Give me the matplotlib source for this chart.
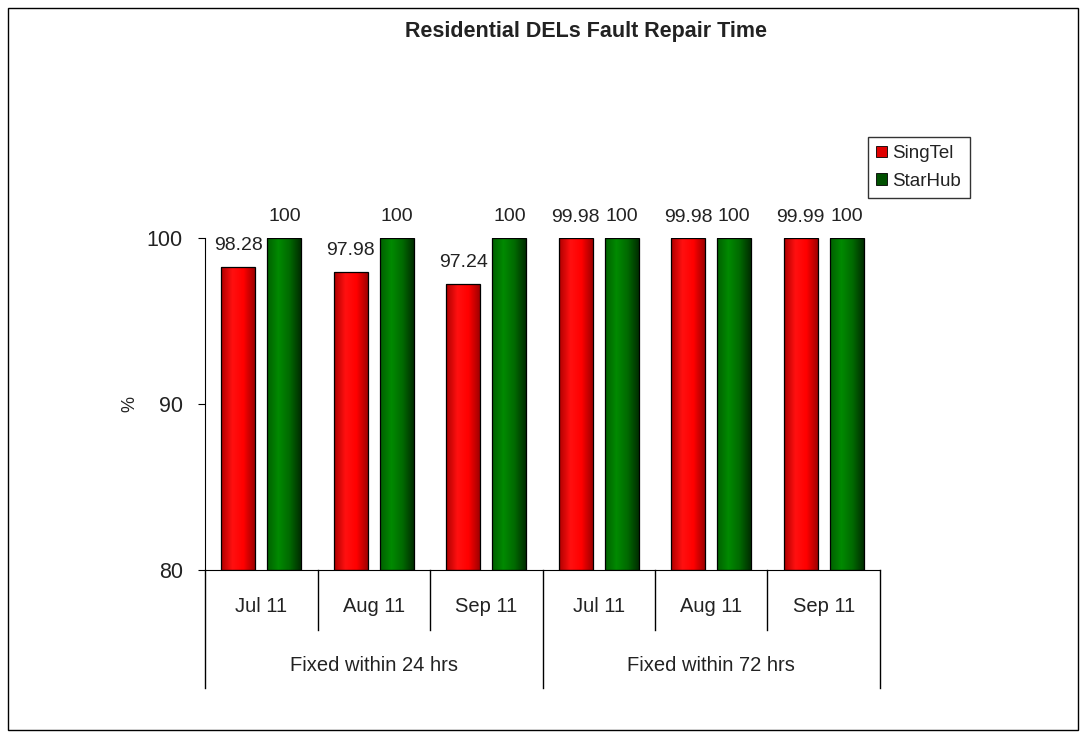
import numpy as np
import matplotlib.pyplot as plt
from matplotlib.colors import LinearSegmentedColormap
from matplotlib.patches import Rectangle
from matplotlib.transforms import blended_transform_factory

plt.rcParams['font.family'] = ['Liberation Sans', 'DejaVu Sans']

# dados
meses = ["Jul 11", "Aug 11", "Sep 11", "Jul 11", "Aug 11", "Sep 11"]
grupos = ["Fixed within 24 hrs", "Fixed within 72 hrs"]
singtel = [98.28, 97.98, 97.24, 99.98, 99.98, 99.99]
starhub = [100, 100, 100, 100, 100, 100]

cor_texto = "#222222"

fig = plt.figure(figsize=(10.86, 7.37), dpi=100)
ax = fig.add_axes([0.1888, 0.2266, 0.6215, 0.4505])

# moldura externa
fig.patches.append(Rectangle((8 / 1086, 1 - 730 / 737), 1070 / 1086, 722 / 737,
                             transform=fig.transFigure, fill=False,
                             edgecolor="black", linewidth=1.0))

x = np.arange(len(meses))
w = 0.30
off = 0.205

cmap_red = LinearSegmentedColormap.from_list("r", ["#b00000", "#ff1010", "#ff0000", "#a00000"])
cmap_green = LinearSegmentedColormap.from_list("g", ["#006000", "#008a00", "#006a00", "#002e00"])
grad = np.linspace(0, 1, 64).reshape(1, -1)


def barra_gradiente(ax, xc, valor, cmap):
    bars = ax.bar(xc, valor - 80, width=w, bottom=80, color="none",
                  edgecolor="black", linewidth=0.9, zorder=3)
    r = bars[0]
    im = ax.imshow(grad, cmap=cmap, aspect="auto", zorder=2,
                   extent=(xc - w / 2, xc + w / 2, 80, valor))
    im.set_clip_path(r)
    return r


for i in range(len(meses)):
    barra_gradiente(ax, x[i] - off, singtel[i], cmap_red)
    barra_gradiente(ax, x[i] + off, starhub[i], cmap_green)
    ax.annotate(f"{singtel[i]:g}", (x[i] - off, singtel[i]), xytext=(0, 9),
                textcoords="offset points", ha="center", va="bottom",
                fontsize=14, color=cor_texto, annotation_clip=False)
    ax.annotate(f"{starhub[i]:g}", (x[i] + off, starhub[i]), xytext=(0, 9),
                textcoords="offset points", ha="center", va="bottom",
                fontsize=14, color=cor_texto, annotation_clip=False)

ax.set_xlim(-0.5, len(meses) - 0.5)
ax.set_ylim(80, 100)
ax.set_yticks([80, 90, 100])
ax.tick_params(axis="y", labelsize=15.5, length=5, direction="out", pad=11,
               labelcolor=cor_texto)
ax.set_xticks([])
ax.spines["top"].set_visible(False)
ax.spines["right"].set_visible(False)
ax.set_ylabel("%", fontsize=13, labelpad=6, color=cor_texto)

# eixo x em dois níveis
trans = blended_transform_factory(ax.transData, ax.transAxes)
for i, m in enumerate(meses):
    ax.text(x[i], -0.111, m, transform=trans, ha="center", va="center",
            fontsize=14.5, color=cor_texto)
for b in np.arange(-0.5, len(meses), 1.0):
    if b in (-0.5, 2.5, 5.5):
        y0 = -0.355
    else:
        y0 = -0.181
    ax.plot([b, b], [0, y0], transform=trans, color="black", lw=1.0, clip_on=False)
for j, g in enumerate(grupos):
    ax.text(1 + 3 * j, -0.289, g, transform=trans, ha="center", va="center",
            fontsize=14.5, color=cor_texto)

fig.text(0.5395, 1 - 32 / 737, "Residential DELs Fault Repair Time",
         ha="center", va="center", fontsize=15.5, fontweight="bold", color=cor_texto)

# legenda
leg_h = [Rectangle((0, 0), 1, 1, facecolor="#e00000", edgecolor="black", lw=0.6),
         Rectangle((0, 0), 1, 1, facecolor="#005000", edgecolor="black", lw=0.6)]
leg = fig.legend(leg_h, ["SingTel", "StarHub"], loc="upper left",
                 bbox_to_anchor=(868 / 1086, 1 - 137 / 737), fontsize=13.5,
                 frameon=True, fancybox=False, edgecolor="black",
                 handlelength=0.55, handleheight=0.55, handletextpad=0.3,
                 borderpad=0.45, labelspacing=0.55, borderaxespad=0)
leg.get_frame().set_linewidth(1.0)
for t in leg.get_texts():
    t.set_color(cor_texto)

plt.savefig("out.png", dpi=100)
